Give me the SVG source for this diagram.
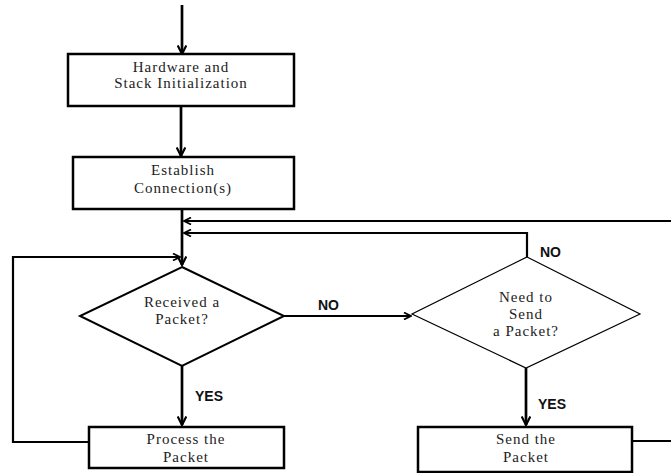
<svg xmlns="http://www.w3.org/2000/svg" width="671" height="473" viewBox="0 0 671 473">
<style>
.box{fill:#fff;stroke:#000;stroke-width:2.5}
.dia{fill:#fff;stroke:#000}
.t{font-family:"Liberation Serif",serif;font-size:15px;letter-spacing:1px;text-anchor:middle;fill:#222}
.lbl{font-family:"Liberation Sans",Arial,sans-serif;font-size:14px;font-weight:bold;fill:#111}
.c{fill:none;stroke:#000;stroke-width:2.7}
.c2{fill:none;stroke:#000;stroke-width:2.2}
</style>
<defs>
<marker id="ah" viewBox="0 0 10 10" refX="9" refY="5" markerWidth="4" markerHeight="4" orient="auto" markerUnits="strokeWidth">
<path d="M1,1 L9,5 L1,9" fill="none" stroke="#000" stroke-width="2"/>
</marker>
</defs>
<g id="connectors">
<path class="c" d="M182,5 V54" marker-end="url(#ah)"/>
<path class="c" d="M181,106 V156" marker-end="url(#ah)"/>
<path class="c" d="M182,209 V265" marker-end="url(#ah)"/>
<path class="c2" d="M671,221 H184" marker-end="url(#ah)"/>
<path class="c2" d="M527,257 V233 H184" marker-end="url(#ah)"/>
<path class="c2" d="M89,442 H13 V257 H180" marker-end="url(#ah)"/>
<path class="c2" d="M284,316 H411" marker-end="url(#ah)"/>
<path class="c" d="M182,366 V425" marker-end="url(#ah)"/>
<path class="c" d="M526,368 V425" marker-end="url(#ah)"/>
<path class="c2" d="M632,441 H671"/>
</g>
<g id="n_init">
<rect class="box" x="68" y="54" width="226" height="52"/>
<text class="t" x="181" y="72">Hardware and</text>
<text class="t" x="181" y="88">Stack Initialization</text>
</g>
<g id="n_conn">
<rect class="box" x="73" y="157" width="221" height="52"/>
<text class="t" x="183" y="175">Establish</text>
<text class="t" x="183" y="193">Connection(s)</text>
</g>
<g id="n_recv">
<polygon class="dia" stroke-width="2" points="182,267 284,316 182,366 80,316"/>
<text class="t" x="182" y="307">Received a</text>
<text class="t" x="182" y="324">Packet?</text>
</g>
<g id="n_need">
<polygon class="dia" stroke-width="1.2" points="527,257 640,314 526,368 412,314"/>
<text class="t" x="526" y="302">Need to</text>
<text class="t" x="526" y="319">Send</text>
<text class="t" x="526" y="336">a Packet?</text>
</g>
<g id="n_proc">
<rect class="box" x="89" y="427" width="195" height="41" stroke-width="1.5"/>
<text class="t" x="186" y="444">Process the</text>
<text class="t" x="186" y="462">Packet</text>
</g>
<g id="n_send">
<rect class="box" x="418" y="427" width="214" height="45" stroke-width="1.5"/>
<text class="t" x="526" y="444">Send the</text>
<text class="t" x="526" y="462">Packet</text>
</g>
<g id="labels">
<text class="lbl" x="318" y="310">NO</text>
<text class="lbl" x="540" y="257">NO</text>
<text class="lbl" x="195" y="401">YES</text>
<text class="lbl" x="538" y="409">YES</text>
</g>
</svg>
